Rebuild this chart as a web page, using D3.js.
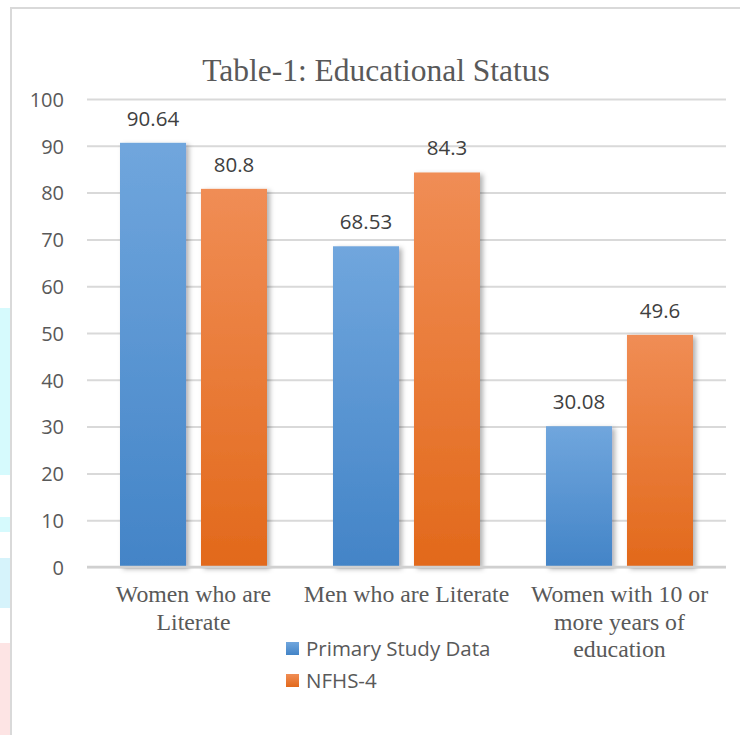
<!DOCTYPE html>
<meta charset="utf-8">
<style>
  body { margin: 0; background: #fff; }
  .grid line { stroke: #d9d9d9; stroke-width: 2px; }
  .grid path { display: none; }
  .axis--y path, .axis--y line { display: none; }
  .axis--y text { fill: #595959; font-family: "Open Sans", sans-serif; font-size: 20px; }
  .axis--x path, .axis--x line { display: none; }
  .axis--x text { fill: #595959; font-family: "Liberation Serif", serif; font-size: 23.8px; }
  .value { fill: #404040; font-family: "Open Sans", sans-serif; font-size: 20.5px; }
  .legend text { fill: #595959; font-family: "Open Sans", sans-serif; font-size: 20.5px; }
</style>
<svg width="740" height="735"></svg>
<script src="https://d3js.org/d3.v7.min.js"></script>
<script>

  var categories = ["Women who are Literate", "Men who are Literate", "Women with 10 or more years of education"];
  var seriesNames = ["Primary Study Data", "NFHS-4"];
  var primaryValues = [90.64, 68.53, 30.08];
  var nfhsValues = [80.8, 84.3, 49.6];
  var yTicks = [0, 10, 20, 30, 40, 50, 60, 70, 80, 90, 100];

  var svg = d3.select("svg");

  // page background bits at left edge
  var strips = [[308, 475, "#d6fafd"], [517, 532, "#d6fafd"], [558, 608, "#d6f3fb"], [643, 735, "#fde4e4"]];
  svg.selectAll(".strip").data(strips).enter().append("rect")
    .attr("x", 0).attr("width", 10)
    .attr("y", function(d) { return d[0]; })
    .attr("height", function(d) { return d[1] - d[0]; })
    .attr("fill", function(d) { return d[2]; });

  // chart frame
  svg.append("rect")
    .attr("x", 11).attr("y", 8).attr("width", 760).attr("height", 760)
    .attr("fill", "#fff").attr("stroke", "#d9d9d9").attr("stroke-width", 2);

  var defs = svg.append("defs");
  function grad(id, top, bottom) {
    var g = defs.append("linearGradient").attr("id", id)
      .attr("x1", 0).attr("y1", 0).attr("x2", 0).attr("y2", 1);
    g.append("stop").attr("offset", "0%").attr("stop-color", top);
    g.append("stop").attr("offset", "100%").attr("stop-color", bottom);
  }
  grad("gBlue", "#70a6dd", "#4384c7");
  grad("gOrange", "#f08d55", "#e2691b");
  defs.append("filter").attr("id", "shadow")
    .attr("x", "-20%").attr("y", "-10%").attr("width", "150%").attr("height", "130%")
    .append("feDropShadow")
    .attr("dx", 3).attr("dy", 2).attr("stdDeviation", 2.5)
    .attr("flood-color", "#000").attr("flood-opacity", 0.3);

  var margin = {left: 87, right: 14, top: 99, bottom: 168};
  var width = 740 - margin.left - margin.right,
      height = 735 - margin.top - margin.bottom;

  var x0 = d3.scaleBand().domain(categories).range([0, width]).paddingInner(0).paddingOuter(0);
  var x1 = d3.scaleBand().domain(seriesNames).range([33, 180]).paddingInner(0.185);
  var y = d3.scaleLinear().domain([0, 100]).range([height, 0]);

  var g = svg.append("g").attr("transform", "translate(" + margin.left + "," + margin.top + ")");

  g.append("g").attr("class", "grid")
    .call(d3.axisLeft(y).tickValues(yTicks).tickSize(-width).tickFormat(""));

  g.append("g").attr("class", "axis axis--y")
    .call(d3.axisLeft(y).tickValues(yTicks).tickSize(0).tickPadding(23))
    .selectAll("text").attr("dy", "0.36em");

  var rows = categories.map(function(c, i) {
    return [
      {cat: c, s: seriesNames[0], v: primaryValues[i], fill: "url(#gBlue)"},
      {cat: c, s: seriesNames[1], v: nfhsValues[i], fill: "url(#gOrange)"}
    ];
  });

  var grp = g.selectAll(".grp").data(rows).enter().append("g")
    .attr("transform", function(d) { return "translate(" + x0(d[0].cat) + ",0)"; });

  grp.selectAll("rect").data(function(d) { return d; }).enter().append("rect")
    .attr("x", function(d) { return x1(d.s); })
    .attr("width", x1.bandwidth())
    .attr("y", function(d) { return y(d.v); })
    .attr("height", function(d) { return height - y(d.v); })
    .attr("fill", function(d) { return d.fill; })
    .attr("filter", "url(#shadow)");

  grp.selectAll(".value").data(function(d) { return d; }).enter().append("text")
    .attr("class", "value")
    .attr("text-anchor", "middle")
    .attr("x", function(d) { return x1(d.s) + x1.bandwidth() / 2; })
    .attr("y", function(d) { return y(d.v) - 17; })
    .text(function(d) { return d.v; });

  // baseline
  g.append("line").attr("x1", 0).attr("x2", width).attr("y1", height).attr("y2", height)
    .attr("stroke", "#d0d0d0").attr("stroke-width", 2.5);

  g.append("g").attr("class", "axis axis--x")
    .attr("transform", "translate(0," + height + ")")
    .call(d3.axisBottom(x0).tickSize(0).tickPadding(0))
    .selectAll("text").call(wrap, 211);

  function wrap(texts, w) {
    texts.each(function() {
      var text = d3.select(this), words = text.text().split(/\s+/), line = [];
      text.text(null);
      var tspan = text.append("tspan").attr("x", 0).attr("y", 35);
      var n = 0;
      words.forEach(function(word) {
        line.push(word);
        tspan.text(line.join(" "));
        if (tspan.node().getComputedTextLength() > w && line.length > 1) {
          line.pop();
          tspan.text(line.join(" "));
          line = [word];
          n++;
          tspan = text.append("tspan").attr("x", 0).attr("y", 35 + n * 27.5).text(word);
        }
      });
      text.attr("dy", null);
    });
  }

  svg.append("text")
    .attr("x", 376).attr("y", 81)
    .attr("text-anchor", "middle")
    .style("font-family", "'Liberation Serif', serif")
    .style("font-size", "31.5px")
    .style("fill", "#595959")
    .text("Table-1: Educational Status");

  var legend = svg.append("g").attr("class", "legend");
  var lg = legend.selectAll("g").data(seriesNames).enter().append("g")
    .attr("transform", function(d, i) { return "translate(286," + (642 + i * 32) + ")"; });
  lg.append("rect").attr("width", 13).attr("height", 13)
    .attr("fill", function(d, i) { return i === 0 ? "url(#gBlue)" : "url(#gOrange)"; });
  lg.append("text").attr("x", 20).attr("y", 6.5).attr("dy", "0.35em").text(function(d) { return d; });

</script>
